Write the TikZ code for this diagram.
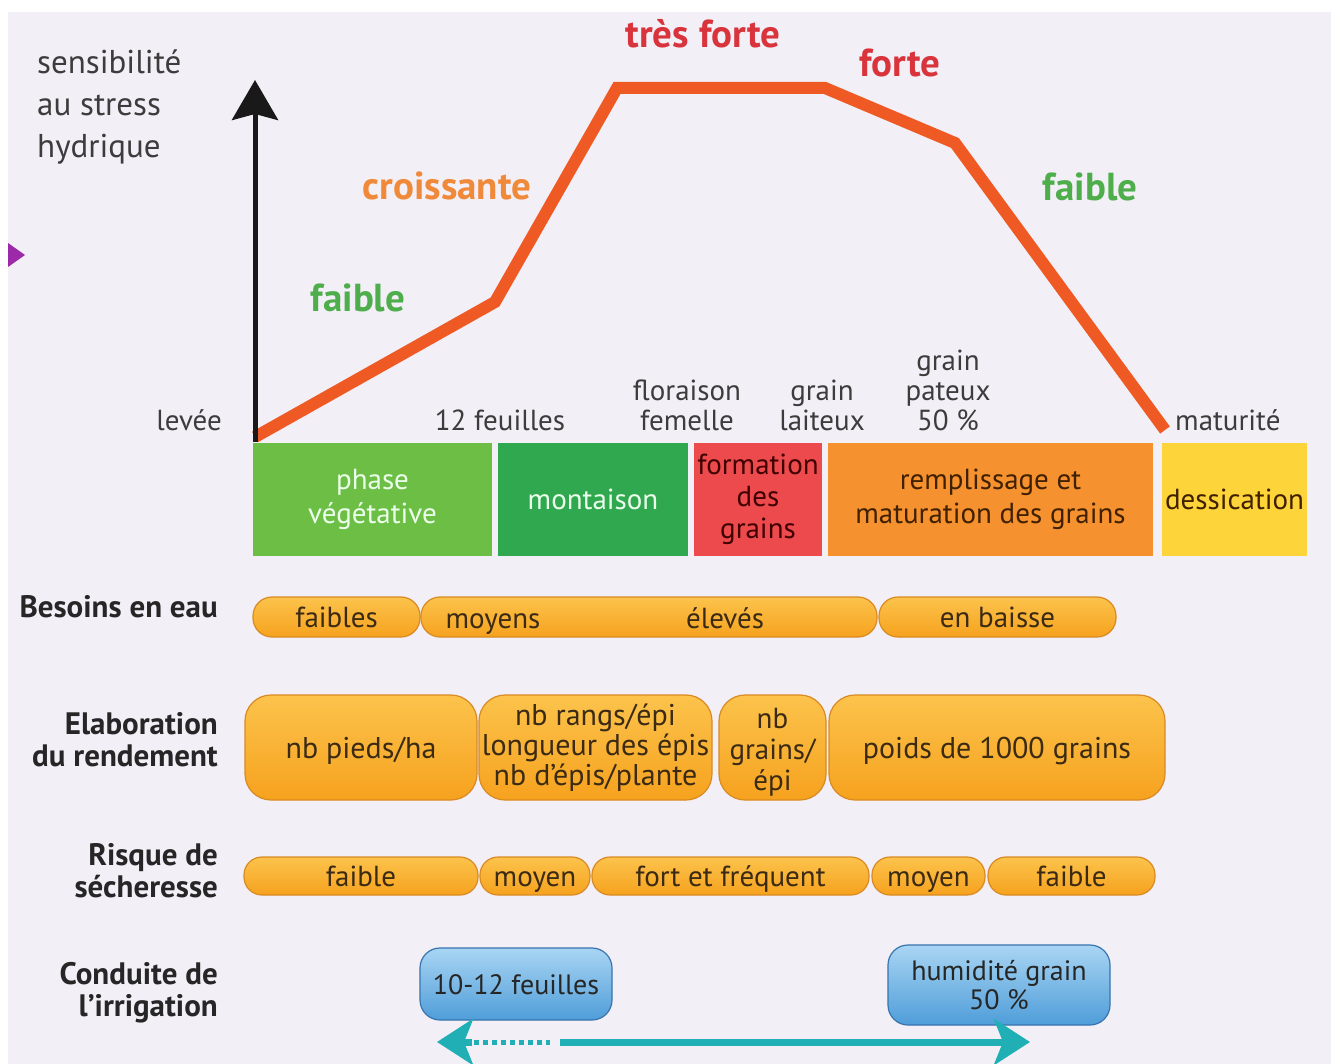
\documentclass[tikz,border=0pt]{standalone}
\usepackage{fontspec}
\setmainfont{PT Sans}
\usetikzlibrary{arrows.meta}
\definecolor{bg}{HTML}{F2EFF6}
\definecolor{curveor}{HTML}{EF5A24}
\definecolor{txtdark}{HTML}{3C3C3C}
\definecolor{txtred}{HTML}{D9343C}
\definecolor{txtor}{HTML}{F08A3A}
\definecolor{txtgreen}{HTML}{4FAE4C}
\definecolor{phgreenA}{HTML}{6CBE45}
\definecolor{phgreenB}{HTML}{2FA84F}
\definecolor{phred}{HTML}{EC4A4D}
\definecolor{phorange}{HTML}{F5922F}
\definecolor{phyellow}{HTML}{FDD43A}
\definecolor{pilltop}{HTML}{FCC34C}
\definecolor{pillbot}{HTML}{F6A21E}
\definecolor{pillline}{HTML}{D98A22}
\definecolor{pilltxt}{HTML}{3B2A14}
\definecolor{bluetop}{HTML}{A9D5F3}
\definecolor{bluebot}{HTML}{4F9DD9}
\definecolor{blueline}{HTML}{3874AE}
\definecolor{tealarr}{HTML}{1FAFB5}
\definecolor{purp}{HTML}{9C2AA8}
\begin{document}
\begin{tikzpicture}[x=1pt,y=-1pt,
  lbl/.style={inner sep=0pt, text=txtdark, font=\fontsize{29}{30}\selectfont, align=center},
  bigword/.style={inner sep=0pt, font=\bfseries\fontsize{39}{40}\selectfont},
  rowlbl/.style={inner sep=0pt, anchor=east, text=black!85, align=right, font=\bfseries\fontsize{31}{32}\selectfont},
  phasebox/.style={inner sep=0pt, minimum height=113pt, align=center, font=\fontsize{29}{34}\selectfont},
  pill/.style={draw=pillline, line width=1.2pt, top color=pilltop, bottom color=pillbot, inner sep=0pt, text=pilltxt, align=center, font=\fontsize{29}{30}\selectfont},
  oneline/.style={text height=21pt, text depth=0pt},
  bluebox/.style={draw=blueline, line width=1.2pt, top color=bluetop, bottom color=bluebot, inner sep=0pt, rounded corners=20pt, text=black!85, align=center, font=\fontsize{28}{29}\selectfont},
  curveline/.style={draw=curveor, line width=12pt, line join=miter},
  axisline/.style={draw=black!90, line width=5pt, -{Stealth[length=40pt,width=46pt,inset=6pt]}},
  tealline/.style={draw=tealarr, line width=7pt, -{Stealth[length=36pt,width=46pt,inset=9pt]}}
]
\useasboundingbox (0,0) rectangle (1331,1064);
\fill[white] (0,0) rectangle (1331,1064);
\fill[bg] (8,12) rectangle (1331,1064);
\fill[purp] (8,243) -- (25,255) -- (8,267) -- cycle;

% axis label
\node[inner sep=0pt, anchor=north west, align=left, text=txtdark, font=\fontsize{33}{42}\selectfont] (ylab) at (37,50) {sensibilité\\au stress\\hydrique};

% curve
\coordinate (c0) at (255,437);
\coordinate (c1) at (495,302);
\coordinate (c2) at (617,88);
\coordinate (c3) at (825,88);
\coordinate (c4) at (955,143);
\coordinate (c5) at (1165,430);
\draw[curveline] (c0) -- (c1) -- (c2) -- (c3) -- (c4) -- (c5);

% axis
\coordinate (a0) at (255,442);
\coordinate (a1) at (255,80);
\draw[axisline] (a0) -- (a1);

% sensitivity words
\node[bigword, text=txtred, anchor=base] (w1) at (703,48) {très forte};
\node[bigword, text=txtred, anchor=base] (w2) at (900,77) {forte};
\node[bigword, text=txtor, anchor=base] (w3) at (447,200) {croissante};
\node[bigword, text=txtgreen, anchor=base] (w4) at (358,312) {faible};
\node[bigword, text=txtgreen, anchor=base] (w5) at (1090,201) {faible};

% stage labels
\node[lbl, anchor=base east] (s0) at (222,431) {levée};
\node[lbl, anchor=base] (s1) at (500,431) {12 feuilles};
\node[lbl] (s2) at (687,405) {floraison\\femelle};
\node[lbl] (s3) at (822,405) {grain\\laiteux};
\node[lbl] (s4) at (948,390) {grain\\pateux\\50 \%};
\node[lbl, anchor=base west] (s5) at (1175,431) {maturité};

% phase bar
\node[phasebox, fill=phgreenA, minimum width=239pt, text=green!8!white] (p1) at (372.5,499.5) {phase\\végétative};
\node[phasebox, fill=phgreenB, minimum width=190pt, text=green!8!white] (p2) at (593,499.5) {montaison};
\node[phasebox, fill=phred, minimum width=128pt, text=black!75!red, font=\fontsize{29}{32}\selectfont] (p3) at (758,499.5) {formation\\des\\grains};
\node[phasebox, fill=phorange, minimum width=325pt, text=black!75!orange] (p4) at (990.5,499.5) {remplissage et\\maturation des grains};
\node[phasebox, fill=phyellow, minimum width=145pt, text=black!75!orange] (p5) at (1234.5,499.5) {dessication};

% row labels
\node[rowlbl] (r1) at (218,607) {Besoins en eau};
\node[rowlbl] (r2) at (218,740) {Elaboration\\du rendement};
\node[rowlbl] (r3) at (218,871) {Risque de\\sécheresse};
\node[rowlbl] (r4) at (218,993) {Conduite de\\l’irrigation};

% besoins en eau
\node[pill, oneline, rounded corners=19pt, minimum height=40pt, minimum width=167pt] (b1) at (336.5,617) {faibles};
\node[pill, rounded corners=19pt, minimum height=40pt, minimum width=456pt] (b2) at (649,617) {};
\node[inner sep=0pt, oneline, text=pilltxt, font=\fontsize{29}{30}\selectfont] (b2a) at (493,618) {moyens};
\node[inner sep=0pt, oneline, text=pilltxt, font=\fontsize{29}{30}\selectfont] (b2b) at (725,618) {élevés};
\node[pill, oneline, rounded corners=19pt, minimum height=40pt, minimum width=237pt] (b3) at (997.5,617) {en baisse};

% elaboration du rendement
\node[pill, oneline, rounded corners=26pt, minimum height=105pt, minimum width=232pt, font=\fontsize{30}{30}\selectfont] (e1) at (361,747.5) {nb pieds/ha};
\node[pill, rounded corners=26pt, minimum height=105pt, minimum width=233pt, font=\fontsize{30}{30}\selectfont] (e2) at (595.5,747.5) {nb rangs/épi\\longueur des épis\\nb d’épis/plante};
\node[pill, rounded corners=26pt, minimum height=105pt, minimum width=107pt, font=\fontsize{29}{31}\selectfont] (e3) at (772.5,747.5) {};
\node[inner sep=0pt, align=center, text=pilltxt, font=\fontsize{29}{31}\selectfont] (e3t) at (772.5,752) {nb\\grains/\\épi};
\node[pill, oneline, rounded corners=26pt, minimum height=105pt, minimum width=336pt, font=\fontsize{30}{30}\selectfont] (e4) at (997,747.5) {poids de 1000 grains};

% risque de secheresse
\node[pill, oneline, rounded corners=18pt, minimum height=38pt, minimum width=234pt] (k1) at (361,876) {faible};
\node[pill, oneline, rounded corners=18pt, minimum height=38pt, minimum width=110pt] (k2) at (535,876) {moyen};
\node[pill, oneline, rounded corners=18pt, minimum height=38pt, minimum width=277pt] (k3) at (730.5,876) {fort et fréquent};
\node[pill, oneline, rounded corners=18pt, minimum height=38pt, minimum width=113pt] (k4) at (928.5,876) {moyen};
\node[pill, oneline, rounded corners=18pt, minimum height=38pt, minimum width=167pt] (k5) at (1071.5,876) {faible};

% irrigation
\node[bluebox, oneline, minimum width=192pt, minimum height=72pt] (i1) at (516,984) {10-12 feuilles};
\node[bluebox, minimum width=222pt, minimum height=80pt] (i2) at (999,985) {humidité grain\\50 \%};

% teal arrow
\coordinate (tl) at (437,1042);
\coordinate (hl) at (472,1042);
\coordinate (d1) at (474,1042);
\coordinate (d2) at (550,1042);
\coordinate (sl) at (560,1042);
\coordinate (tr) at (1030,1042);
\draw[draw=tealarr, line width=5pt, dash pattern=on 5pt off 4pt] (d1) -- (d2);
\draw[tealline] (sl) -- (tr);
\draw[tealline] (hl) -- (tl);
\end{tikzpicture}
\end{document}
